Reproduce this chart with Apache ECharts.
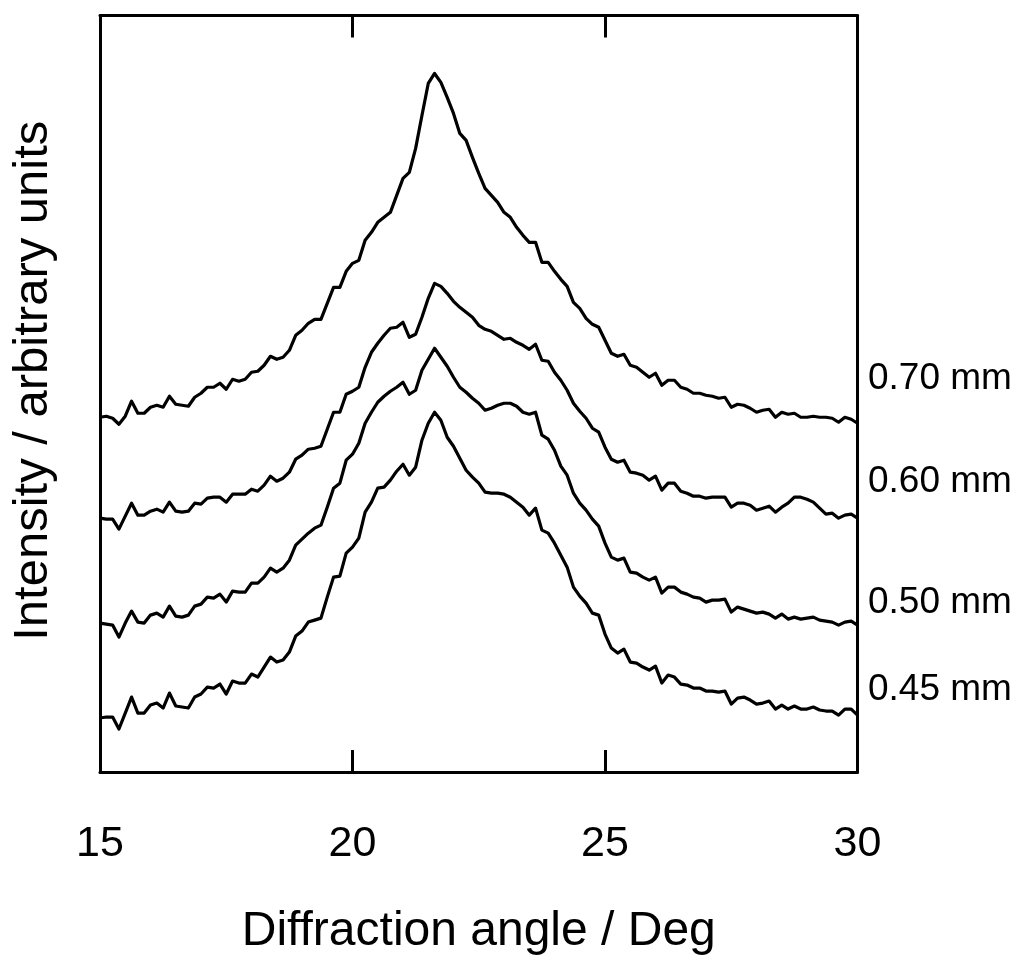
<!DOCTYPE html>
<html>
<head>
<meta charset="utf-8">
<script src="https://cdn.jsdelivr.net/npm/echarts@6/dist/echarts.min.js"></script>
<style>
html,body{margin:0;padding:0;background:#fff;}
#chart{width:1019px;height:961px;}
</style>
</head>
<body>
<div id="chart"></div>
<script>
// Diffraction angle (deg), sampled every 0.125 deg
const angles = [
  15.000,15.125,15.250,15.375,15.500,15.625,15.750,15.875,16.000,16.125,
  16.250,16.375,16.500,16.625,16.750,16.875,17.000,17.125,17.250,17.375,
  17.500,17.625,17.750,17.875,18.000,18.125,18.250,18.375,18.500,18.625,
  18.750,18.875,19.000,19.125,19.250,19.375,19.500,19.625,19.750,19.875,
  20.000,20.125,20.250,20.375,20.500,20.625,20.750,20.875,21.000,21.125,
  21.250,21.375,21.500,21.625,21.750,21.875,22.000,22.125,22.250,22.375,
  22.500,22.625,22.750,22.875,23.000,23.125,23.250,23.375,23.500,23.625,
  23.750,23.875,24.000,24.125,24.250,24.375,24.500,24.625,24.750,24.875,
  25.000,25.125,25.250,25.375,25.500,25.625,25.750,25.875,26.000,26.125,
  26.250,26.375,26.500,26.625,26.750,26.875,27.000,27.125,27.250,27.375,
  27.500,27.625,27.750,27.875,28.000,28.125,28.250,28.375,28.500,28.625,
  28.750,28.875,29.000,29.125,29.250,29.375,29.500,29.625,29.750,29.875,
  30.000
];

// Intensity (arbitrary units, curves stacked with offsets as plotted)
const i070 = [354,355,353,347,355,370,358,358,364,366, 364,375,367,366,365,374,378,384,384,388,
  382,392,390,392,399,400,406,415,412,414, 421,436,441,448,452,452,468,484,484,500,
  508,511,531,539,549,554,559,576,593,599, 623,656,688,698,689,674,658,638,631,614,
  598,583,576,569,559,554,544,536,529,529, 509,509,500,492,485,469,463,453,447,444,
  431,418,415,417,406,404,399,394,398,386, 391,391,384,382,378,378,376,375,373,374,
  364,367,366,363,359,361,362,354,359,357, 358,354,354,355,354,354,353,349,354,352, 348];
const i060 = [253,252,252,242,255,268,256,256,260,262, 259,269,260,259,260,268,267,273,274,274,
  269,277,277,277,282,280,286,295,290,293, 299,312,316,322,323,325,342,359,359,377,
  380,384,404,419,428,436,443,444,449,434, 437,454,473,488,485,478,470,464,459,454,
  446,442,440,436,432,433,429,426,422,427, 411,410,399,391,381,368,360,353,343,339,
  324,312,309,311,299,298,296,291,295,281, 288,288,280,278,275,275,273,274,274,274,
  264,268,268,266,261,263,265,259,264,268, 274,274,272,269,263,257,258,253,256,257, 253];
const i050 = [148,147,146,134,148,160,149,148,156,158, 154,165,155,154,156,165,167,174,173,177,
  169,180,179,179,188,188,194,203,199,203, 211,226,232,238,243,246,264,283,288,311,
  317,328,348,359,369,375,380,384,389,377, 381,401,412,423,414,405,394,384,379,373,
  368,361,363,366,368,368,365,359,357,359, 336,332,321,305,296,278,268,261,252,245,
  228,214,211,213,199,198,194,191,194,178, 184,184,179,177,174,173,169,171,171,172,
  159,164,162,160,158,159,157,153,157,152, 154,152,153,154,151,150,149,146,149,150, 146];
const i045 = [53,54,54,42,58,74,58,58,66,68, 63,78,65,64,63,74,77,84,83,87,
  77,90,88,88,97,94,104,114,109,111, 119,135,140,149,151,153,174,194,195,218,
  224,233,259,269,283,284,291,300,307,296, 304,331,348,359,351,334,325,313,301,294,
  288,279,278,278,277,274,269,264,256,263, 241,238,228,216,204,184,175,168,158,156,
  137,123,118,122,109,108,104,101,105,88, 96,94,87,86,83,83,80,80,79,80,
  67,73,74,71,67,68,70,62,66,62, 65,62,62,64,61,60,60,56,62,62, 56];

const seriesNames = ['0.70 mm', '0.60 mm', '0.50 mm', '0.45 mm'];
const seriesValues = [i070, i060, i050, i045];
const xTicks = [15, 20, 25, 30];
const xTitle = 'Diffraction angle / Deg';
const yTitle = 'Intensity / arbitrary units';

// ---- layout / style ----
const FONT = '"Liberation Sans", Arial, Helvetica, sans-serif';
const labelY = [381, 484.5, 605.5, 692.5];

const chart = echarts.init(document.getElementById('chart'), null, {renderer: 'canvas'});

const frameLine = {show: true, onZero: false, lineStyle: {color: '#000', width: 3}};

const option = {
  backgroundColor: '#fff',
  animation: false,
  grid: {left: 100, right: 161.5, top: 15.5, bottom: 189, containLabel: false},
  xAxis: [
    {
      type: 'value', min: xTicks[0], max: xTicks[xTicks.length - 1], interval: 5,
      position: 'bottom',
      axisLine: frameLine,
      axisTick: {show: true, inside: true, length: 22, lineStyle: {color: '#000', width: 3}},
      axisLabel: {show: true, color: '#000', fontSize: 43, fontFamily: FONT, margin: 51},
      splitLine: {show: false},
      name: xTitle, nameLocation: 'middle', nameGap: 136,
      nameTextStyle: {color: '#000', fontSize: 48, fontFamily: FONT}
    },
    {
      type: 'value', min: xTicks[0], max: xTicks[xTicks.length - 1], interval: 5,
      position: 'top',
      axisLine: frameLine,
      axisTick: {show: true, inside: true, length: 22, lineStyle: {color: '#000', width: 3}},
      axisLabel: {show: false},
      splitLine: {show: false}
    }
  ],
  yAxis: [
    {
      type: 'value', min: -1, max: 756, position: 'left',
      axisLine: frameLine, axisTick: {show: false}, axisLabel: {show: false}, splitLine: {show: false},
      name: yTitle, nameLocation: 'middle', nameGap: 42, nameRotate: 90,
      nameTextStyle: {color: '#000', fontSize: 49, fontFamily: FONT, padding: [0, 0, 0, 26]}
    },
    {
      type: 'value', min: -1, max: 756, position: 'right',
      axisLine: frameLine, axisTick: {show: false}, axisLabel: {show: false}, splitLine: {show: false}
    }
  ],
  series: seriesValues.map((vals, k) => ({
    name: seriesNames[k],
    type: 'line',
    xAxisIndex: 0, yAxisIndex: 0,
    data: angles.map((a, i) => [a, vals[i]]),
    showSymbol: false,
    symbol: 'none',
    lineStyle: {color: '#000', width: 3.2, join: 'round'},
    silent: true
  })),
  graphic: seriesNames.map((n, k) => ({
    type: 'text',
    left: 868,
    top: labelY[k] - 21,
    style: {text: n, font: '37px ' + FONT, fill: '#000'}
  }))
};

chart.setOption(option);
</script>
</body>
</html>
